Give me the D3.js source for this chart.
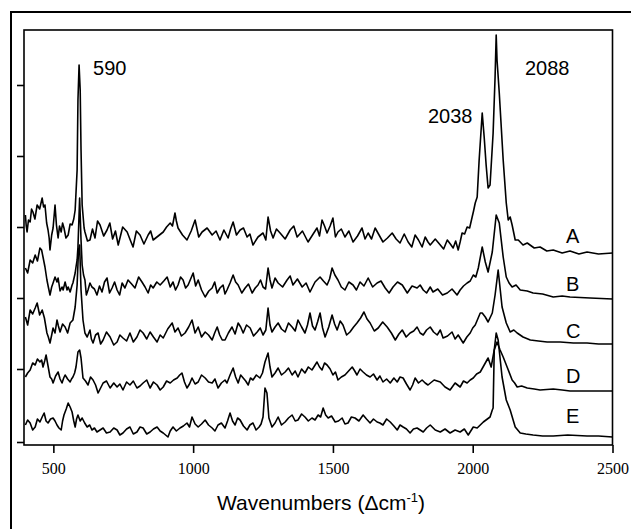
<!DOCTYPE html>
<html><head><meta charset="utf-8">
<script src="https://cdn.jsdelivr.net/npm/d3@7"></script>
<style>body{margin:0;background:#fff} svg{display:block}</style>
</head><body>
<svg id="c" width="631" height="529"></svg>
<script>
// ---- data (wavenumber cm-1, intensity a.u. incl. stacking offset) ----
const xTicks = [500, 1000, 1500, 2000, 2500];
const yTicks = [3, 76, 147, 218, 289, 360];
const traceNames = ["A", "B", "C", "D", "E"];
const traceLabelLevel = [202, 154, 107, 62, 22];
const peakLabels = ["590", "2038", "2088"];
const peakLabelPos = [[642, 370], [1840, 322], [2187, 370]];

const traceA = [[400,230],[403,219],[406,213],[411,225],[417,223],[422,236],[427,233],[434,226],[442,240],[451,236],[460,247],[465,238],[470,240],[476,222],[481,215],[485,207],[488,195],[494,210],[499,217],[503,230],[506,240],[511,220],[517,207],[522,219],[528,213],[533,222],[538,217],[545,207],[553,210],[560,221],[567,220],[573,226],[578,235],[585,275],[588,345],[592,380],[596,355],[599,295],[603,240],[610,217],[613,213],[622,204],[631,205],[640,216],[649,207],[658,224],[667,220],[680,209],[692,215],[702,222],[712,206],[722,214],[732,200],[748,218],[764,213],[775,205],[785,198],[797,214],[810,210],[824,201],[839,210],[848,214],[857,205],[875,209],[893,213],[905,218],[918,222],[926,219],[935,232],[940,224],[946,217],[962,210],[978,205],[993,214],[1007,225],[1020,208],[1032,213],[1050,217],[1068,210],[1082,214],[1096,205],[1110,215],[1125,207],[1134,216],[1143,223],[1155,210],[1168,215],[1180,217],[1193,208],[1203,211],[1214,200],[1232,208],[1250,212],[1260,205],[1268,228],[1277,214],[1286,207],[1298,216],[1311,212],[1329,206],[1347,215],[1360,219],[1372,208],[1391,214],[1411,203],[1427,210],[1443,217],[1452,209],[1461,225],[1470,219],[1479,212],[1490,219],[1500,227],[1509,208],[1518,213],[1530,216],[1543,208],[1557,214],[1572,203],[1588,209],[1604,217],[1615,206],[1626,212],[1638,206],[1651,217],[1665,210],[1679,203],[1695,207],[1712,212],[1726,206],[1740,202],[1755,211],[1769,203],[1782,198],[1794,210],[1806,205],[1819,198],[1830,208],[1840,203],[1848,200],[1866,206],[1884,200],[1896,196],[1909,205],[1920,201],[1930,197],[1939,204],[1948,195],[1955,203],[1962,212],[1971,211],[1980,218],[1989,217],[1998,228],[2003,234],[2009,242],[2016,248],[2023,285],[2034,332],[2041,308],[2048,280],[2055,257],[2062,260],[2073,312],[2080,368],[2084,410],[2087,385],[2095,352],[2109,285],[2120,242],[2127,225],[2134,228],[2141,220],[2152,205],[2163,205],[2180,200],[2195,202],[2220,197],[2241,198],[2265,194],[2288,195],[2320,192],[2348,194],[2380,191],[2409,193],[2450,191],[2500,192]];

const traceB = [[400,177],[408,172],[417,185],[426,182],[435,190],[443,184],[452,197],[458,195],[463,188],[470,178],[477,165],[482,158],[488,150],[494,158],[499,162],[506,168],[513,163],[517,167],[524,154],[531,158],[535,155],[542,163],[549,155],[553,158],[560,153],[567,160],[570,162],[578,172],[581,178],[585,185],[588,198],[594,247],[599,205],[603,180],[608,170],[613,165],[618,150],[624,155],[631,162],[638,158],[647,156],[656,150],[665,159],[674,153],[683,163],[692,167],[701,152],[710,157],[719,163],[728,155],[737,150],[746,162],[756,157],[767,165],[780,161],[792,157],[805,168],[817,163],[828,158],[839,152],[848,160],[857,157],[870,163],[882,160],[895,164],[907,168],[918,158],[928,163],[937,155],[946,160],[955,168],[964,165],[973,157],[982,160],[991,166],[1000,172],[1009,159],[1018,165],[1030,155],[1043,148],[1056,154],[1068,157],[1077,163],[1086,152],[1096,157],[1107,160],[1114,151],[1121,155],[1132,162],[1143,170],[1152,163],[1161,160],[1174,152],[1186,157],[1198,161],[1211,152],[1222,157],[1232,160],[1241,165],[1250,158],[1259,156],[1268,177],[1275,165],[1282,157],[1293,167],[1304,162],[1320,158],[1336,165],[1347,169],[1357,160],[1373,166],[1390,158],[1404,162],[1418,153],[1436,163],[1454,168],[1466,164],[1479,160],[1488,166],[1497,177],[1507,170],[1518,165],[1530,158],[1543,155],[1557,163],[1572,160],[1584,155],[1597,163],[1611,159],[1626,167],[1642,158],[1658,162],[1672,164],[1687,157],[1701,152],[1715,158],[1731,163],[1748,160],[1766,152],[1783,159],[1801,157],[1812,160],[1823,155],[1835,152],[1848,158],[1858,153],[1875,156],[1892,150],[1909,152],[1926,156],[1944,150],[1955,155],[1967,159],[1980,162],[1991,164],[2002,170],[2011,168],[2020,177],[2034,198],[2045,183],[2055,173],[2070,193],[2084,230],[2095,222],[2109,188],[2120,168],[2130,162],[2141,158],[2155,160],[2170,155],[2195,154],[2216,152],[2250,151],[2288,148],[2320,149],[2348,148],[2420,147],[2500,146]];

const traceC = [[400,128],[408,120],[417,135],[426,131],[435,137],[442,142],[451,130],[460,135],[468,127],[477,112],[482,108],[488,102],[494,110],[499,117],[506,112],[513,125],[518,119],[524,113],[533,121],[542,118],[551,112],[560,122],[570,125],[578,138],[585,160],[590,195],[594,200],[599,155],[606,125],[613,112],[621,108],[631,115],[636,106],[642,102],[651,110],[660,112],[669,101],[678,105],[690,113],[703,108],[716,100],[728,103],[738,110],[749,107],[762,104],[774,112],[786,103],[799,108],[810,115],[821,112],[834,106],[846,113],[858,108],[871,103],[882,110],[893,107],[909,116],[925,122],[935,113],[946,117],[958,109],[971,112],[984,118],[996,125],[1007,112],[1018,118],[1030,108],[1043,113],[1055,110],[1068,105],[1077,112],[1086,118],[1095,110],[1104,105],[1114,105],[1126,112],[1139,118],[1150,111],[1161,122],[1170,118],[1179,112],[1191,120],[1204,117],[1216,109],[1229,113],[1240,117],[1250,110],[1260,115],[1268,137],[1275,120],[1282,113],[1293,118],[1304,122],[1316,116],[1329,113],[1341,122],[1354,118],[1365,114],[1375,125],[1388,118],[1400,112],[1409,120],[1418,132],[1427,119],[1436,115],[1445,123],[1454,132],[1463,117],[1472,108],[1485,118],[1497,130],[1506,121],[1515,115],[1526,124],[1536,120],[1549,110],[1561,113],[1574,118],[1586,122],[1599,127],[1611,133],[1622,126],[1633,122],[1648,114],[1662,117],[1678,123],[1694,118],[1709,112],[1723,105],[1736,111],[1748,115],[1762,108],[1776,112],[1789,114],[1801,118],[1812,112],[1823,110],[1835,115],[1848,118],[1860,113],[1873,110],[1884,115],[1894,107],[1910,109],[1926,113],[1937,106],[1948,110],[1957,106],[1966,102],[1979,108],[1991,112],[2000,117],[2009,120],[2018,126],[2027,132],[2034,132],[2045,128],[2055,123],[2070,132],[2080,150],[2091,175],[2105,138],[2120,122],[2134,113],[2147,115],[2159,112],[2180,108],[2206,105],[2235,104],[2266,103],[2313,103],[2360,102],[2409,102],[2450,101],[2500,101]];

const traceD = [[400,68],[408,72],[417,75],[426,82],[435,80],[443,86],[452,83],[458,85],[463,78],[469,84],[474,90],[481,79],[488,68],[494,66],[499,62],[508,69],[517,73],[524,66],[531,62],[537,67],[542,70],[551,66],[560,63],[565,66],[570,68],[576,72],[581,78],[588,93],[594,95],[599,87],[606,67],[615,64],[624,60],[633,68],[642,65],[651,60],[660,52],[669,57],[678,62],[690,64],[703,57],[716,62],[728,58],[738,61],[749,55],[762,63],[774,60],[786,64],[799,57],[810,59],[821,62],[834,65],[846,57],[858,63],[871,60],[882,55],[893,58],[905,64],[918,62],[930,65],[943,67],[952,70],[960,72],[969,63],[978,57],[987,61],[996,67],[1007,61],[1018,63],[1030,70],[1043,67],[1055,63],[1068,62],[1078,66],[1089,57],[1101,62],[1114,65],[1121,62],[1132,70],[1143,77],[1152,68],[1161,62],[1170,70],[1179,67],[1188,64],[1197,60],[1205,67],[1214,65],[1226,70],[1239,67],[1248,72],[1257,83],[1268,92],[1275,78],[1282,68],[1293,72],[1304,77],[1316,70],[1329,73],[1341,77],[1354,70],[1365,74],[1375,68],[1388,76],[1400,72],[1412,78],[1425,75],[1434,79],[1443,83],[1452,78],[1461,75],[1470,82],[1479,80],[1490,76],[1500,70],[1509,73],[1518,65],[1530,68],[1543,70],[1556,74],[1569,78],[1578,74],[1586,70],[1597,76],[1608,73],[1620,70],[1633,68],[1645,71],[1658,65],[1668,69],[1679,63],[1692,66],[1705,62],[1718,67],[1730,63],[1740,68],[1751,67],[1763,61],[1776,55],[1785,60],[1794,67],[1806,62],[1819,65],[1830,62],[1840,60],[1862,65],[1884,63],[1901,58],[1919,55],[1937,62],[1955,58],[1967,64],[1980,62],[1991,65],[2002,67],[2014,71],[2027,73],[2045,82],[2055,87],[2066,78],[2077,95],[2087,103],[2098,95],[2109,88],[2123,78],[2141,65],[2150,62],[2159,58],[2175,59],[2195,57],[2220,56],[2241,55],[2288,56],[2320,55],[2348,54],[2409,54],[2460,54],[2500,54]];

const traceE = [[400,20],[408,25],[417,22],[426,15],[435,18],[443,26],[452,23],[460,28],[467,32],[474,24],[481,22],[490,26],[499,27],[506,24],[513,20],[520,17],[528,15],[533,24],[538,30],[546,36],[553,42],[560,38],[567,33],[573,24],[578,18],[583,26],[588,30],[596,24],[603,27],[612,22],[621,18],[630,20],[638,15],[647,17],[656,13],[667,15],[678,17],[690,12],[703,13],[716,17],[728,15],[738,10],[749,12],[762,16],[774,18],[786,11],[799,13],[810,18],[821,17],[834,11],[846,13],[858,16],[871,18],[882,14],[893,12],[910,8],[918,14],[928,18],[940,14],[953,17],[965,19],[978,22],[987,18],[996,28],[1007,21],[1018,18],[1030,21],[1043,25],[1055,20],[1068,17],[1078,14],[1089,20],[1101,22],[1114,17],[1123,24],[1132,32],[1141,24],[1150,20],[1159,27],[1168,25],[1180,19],[1193,15],[1203,20],[1214,22],[1225,15],[1236,18],[1243,21],[1250,28],[1257,57],[1264,52],[1271,27],[1282,18],[1293,22],[1304,28],[1316,20],[1329,23],[1341,27],[1354,30],[1365,24],[1375,25],[1388,31],[1400,28],[1412,24],[1425,27],[1436,25],[1447,30],[1456,28],[1465,37],[1474,30],[1483,27],[1495,29],[1508,23],[1520,24],[1533,27],[1543,21],[1554,22],[1566,28],[1579,27],[1593,24],[1608,30],[1620,26],[1633,22],[1645,26],[1658,23],[1668,22],[1679,20],[1692,26],[1705,23],[1718,19],[1730,15],[1740,20],[1751,18],[1763,16],[1776,12],[1788,16],[1801,17],[1812,15],[1823,13],[1835,17],[1848,20],[1866,15],[1884,13],[1901,16],[1919,12],[1937,15],[1955,13],[1970,16],[1984,10],[2002,18],[2016,17],[2038,23],[2062,28],[2070,35],[2073,37],[2077,95],[2084,112],[2091,105],[2105,68],[2120,45],[2134,35],[2152,18],[2170,12],[2190,11],[2216,10],[2250,9],[2288,9],[2340,10],[2409,9],[2450,9],[2500,8]];

const traces = [traceA, traceB, traceC, traceD, traceE];

// ---- drawing ----
const svg = d3.select("#c");
const P = {l: 24, t: 30, r: 612.5, b: 445};
const x = d3.scaleLinear().domain([395, 2500]).range([P.l, P.r]);
const y = d3.scaleLinear().domain([0, 415]).range([P.b, P.t]);
const serif = '"Liberation Serif", "Times New Roman", Times, "DejaVu Serif", serif';
const sans = '"Liberation Sans", Arial, Helvetica, sans-serif';

svg.append("rect").attr("width", 631).attr("height", 529).attr("fill", "#fff");
// outer figure frame
svg.append("rect").attr("x", 11).attr("y", 12).attr("width", 640).attr("height", 540)
  .attr("fill", "none").attr("stroke", "#000").attr("stroke-width", 2);

const line = d3.line().x(d => x(d[0])).y(d => y(d[1]));
svg.append("g").selectAll("path").data(traces).join("path")
  .attr("d", line).attr("fill", "none").attr("stroke", "#000")
  .attr("stroke-width", 1.6).attr("stroke-linejoin", "round");

// plot frame
svg.append("rect").attr("x", P.l).attr("y", P.t).attr("width", P.r - P.l).attr("height", P.b - P.t)
  .attr("fill", "none").attr("stroke", "#000").attr("stroke-width", 1.6);

// x axis
const gx = svg.append("g").attr("transform", `translate(0,${P.b})`)
  .call(d3.axisBottom(x).tickValues(xTicks).tickSize(8).tickSizeOuter(0).tickFormat(d3.format("d")));
gx.select(".domain").remove();
gx.selectAll(".tick line").attr("stroke", "#000").attr("stroke-width", 1.6);
gx.selectAll(".tick text").attr("y", 28.5).attr("dy", null)
  .attr("font-family", serif).style("font-family", serif)
  .attr("font-size", 16).style("font-size", "16px").attr("fill", "#000");

// y axis (ticks only)
const gy = svg.append("g").attr("transform", `translate(${P.l},0)`)
  .call(d3.axisLeft(y).tickValues(yTicks).tickSize(7).tickSizeOuter(0).tickFormat(""));
gy.select(".domain").remove();
gy.selectAll(".tick line").attr("stroke", "#000").attr("stroke-width", 1.6);

// peak labels
svg.append("g").selectAll("text").data(peakLabels).join("text")
  .attr("x", (d, i) => x(peakLabelPos[i][0])).attr("y", (d, i) => y(peakLabelPos[i][1]))
  .style("font-family", sans).style("font-size", "20px").attr("fill", "#000").text(d => d);

// trace labels
svg.append("g").selectAll("text").data(traceNames).join("text")
  .attr("x", x(2334)).attr("y", (d, i) => y(traceLabelLevel[i]))
  .style("font-family", sans).style("font-size", "20px").attr("fill", "#000").text(d => d);

// axis title
const t = svg.append("text").attr("x", 321).attr("y", 510).attr("text-anchor", "middle")
  .style("font-family", sans).style("font-size", "21px").attr("fill", "#000");
t.append("tspan").text("Wavenumbers (\u0394cm");
t.append("tspan").attr("dy", -8).style("font-size", "13px").text("-1");
t.append("tspan").attr("dy", 8).text(")");
</script>
</body></html>
